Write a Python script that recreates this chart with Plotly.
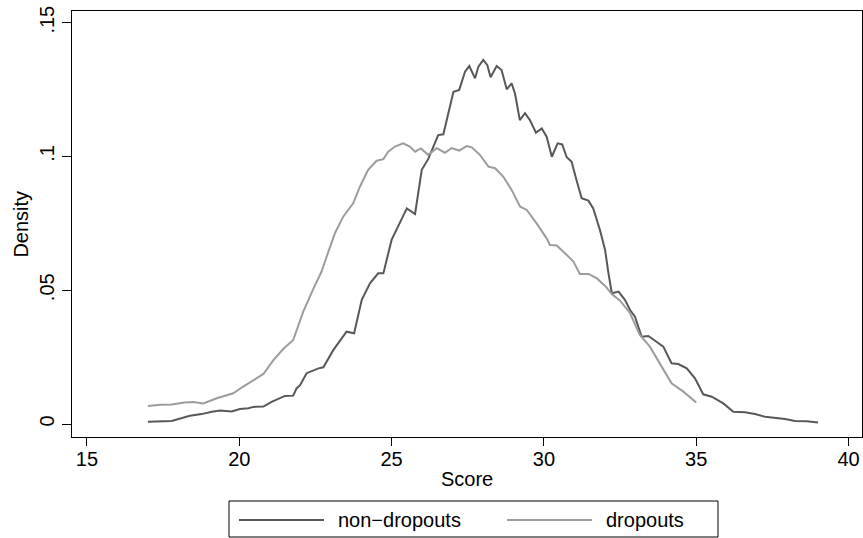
import plotly.graph_objects as go

# ---- data ----
nondrop_x = [17.0, 17.78, 18.38, 18.76, 19.1, 19.37, 19.75, 20.02, 20.3, 20.46, 20.79, 21.06,
             21.5, 21.77, 21.88, 22.0, 22.21, 22.6, 22.76, 23.09, 23.52, 23.77, 24.02, 24.29,
             24.56, 24.73, 25.0, 25.25, 25.5, 25.77, 25.99, 26.2, 26.37, 26.53, 26.7, 26.81,
             27.03, 27.22, 27.41, 27.55, 27.74, 27.85, 28.01, 28.14, 28.25, 28.45, 28.61, 28.78,
             28.94, 29.05, 29.21, 29.38, 29.54, 29.74, 29.93, 30.09, 30.26, 30.45, 30.6, 30.75,
             30.91, 31.07, 31.24, 31.46, 31.62, 31.84, 32.01, 32.12, 32.23, 32.45, 32.66, 32.83,
             32.99, 33.21, 33.43, 33.65, 33.92, 34.19, 34.41, 34.69, 34.96, 35.23, 35.51, 35.89,
             36.22, 36.6, 36.93, 37.26, 37.64, 37.92, 38.24, 38.63, 39.0]
nondrop_y = [0.0008, 0.0011, 0.0031, 0.0037, 0.0046, 0.005, 0.0047, 0.0056, 0.0059, 0.0064, 0.0065, 0.0083,
             0.0105, 0.0106, 0.0133, 0.0146, 0.019, 0.0208, 0.0212, 0.0277, 0.0345, 0.0339, 0.0464, 0.0526,
             0.0563, 0.0563, 0.0688, 0.0745, 0.0806, 0.0785, 0.095, 0.099, 0.1037, 0.108, 0.1083, 0.1136,
             0.1242, 0.1249, 0.1317, 0.1338, 0.1292, 0.1336, 0.1361, 0.1342, 0.1296, 0.1338, 0.1323, 0.1251,
             0.1273, 0.1236, 0.1136, 0.1162, 0.1136, 0.1089, 0.1105, 0.1074, 0.0999, 0.1049, 0.1045, 0.0997,
             0.098, 0.0912, 0.0844, 0.0835, 0.0806, 0.0725, 0.065, 0.0563, 0.0489, 0.0495, 0.0464, 0.0426,
             0.0401, 0.0326, 0.0329, 0.0311, 0.0289, 0.0227, 0.0224, 0.0208, 0.0171, 0.0111, 0.0102, 0.0077,
             0.0046, 0.0044, 0.0037, 0.0027, 0.0024, 0.0019, 0.0011, 0.001, 0.0006]

drop_x = [17.0, 17.4, 17.78, 18.2, 18.5, 18.82, 19.26, 19.8, 20.13, 20.52, 20.79, 21.12, 21.45,
          21.77, 22.1, 22.43, 22.7, 22.87, 23.14, 23.41, 23.74, 23.96, 24.23, 24.51, 24.73, 24.89,
          25.11, 25.38, 25.6, 25.77, 25.96, 26.2, 26.48, 26.75, 26.97, 27.22, 27.46, 27.63, 27.9,
          28.18, 28.4, 28.67, 28.94, 29.22, 29.44, 29.76, 30.09, 30.2, 30.42, 30.75, 30.97, 31.18,
          31.46, 31.73, 32.01, 32.23, 32.5, 32.83, 33.15, 33.48, 33.81, 34.19, 34.58, 35.0]
drop_y = [0.0067, 0.0072, 0.0073, 0.008, 0.0082, 0.0077, 0.0096, 0.0115, 0.014, 0.0167, 0.0187, 0.0239, 0.0281,
          0.0314, 0.042, 0.0505, 0.057, 0.0626, 0.0713, 0.0775, 0.0825, 0.0887, 0.095, 0.0984, 0.099, 0.1018,
          0.1037, 0.1049, 0.1037, 0.1018, 0.103, 0.1006, 0.1031, 0.1014, 0.1031, 0.1022, 0.1039, 0.1034, 0.1006,
          0.0962, 0.0956, 0.0924, 0.0875, 0.0812, 0.08, 0.075, 0.0694, 0.0669, 0.0667, 0.0632, 0.0607, 0.0561,
          0.0561, 0.0545, 0.0516, 0.0486, 0.0461, 0.0414, 0.0333, 0.0289, 0.0227, 0.0152, 0.0121, 0.008]

series_names = ["non−dropouts", "dropouts"]
x_ticks = [15, 20, 25, 30, 35, 40]
y_ticks = [0, 0.05, 0.1, 0.15]
y_tick_text = ["0", ".05", ".1", ".15"]
x_title = "Score"
y_title = "Density"

# ---- styling / layout ----
W, H = 863, 538
ML, MR, MT, MB = 72, 1, 11, 101
PW, PH = W - ML - MR, H - MT - MB
FONT = "Liberation Sans, Arial, sans-serif"
FS = 20
DARK = "#585858"
LIGHT = "#9c9c9c"


def px_x(p):
    return (p - ML) / PW


def px_y(p):
    return (H - MB - p) / PH


fig = go.Figure()
fig.add_trace(go.Scatter(x=nondrop_x, y=nondrop_y, mode="lines", name=series_names[0],
                         line=dict(color=DARK, width=2), showlegend=False))
fig.add_trace(go.Scatter(x=drop_x, y=drop_y, mode="lines", name=series_names[1],
                         line=dict(color=LIGHT, width=2), showlegend=False))

fig.update_layout(
    width=W, height=H,
    margin=dict(l=ML, r=MR, t=MT, b=MB),
    paper_bgcolor="white", plot_bgcolor="white",
    font=dict(family=FONT, size=FS, color="black"),
    xaxis=dict(range=[14.508, 40.443], tickvals=x_ticks, ticks="outside", ticklen=8,
               tickcolor="black", showline=True, linecolor="black", linewidth=1, mirror=True,
               showgrid=False, zeroline=False, tickfont=dict(size=FS),
               ticklabeloverflow="allow", ticklabelstandoff=-4),
    yaxis=dict(range=[-0.00486, 0.15437], tickvals=y_ticks, ticktext=y_tick_text,
               ticks="outside", ticklen=9, tickcolor="black", tickangle=-90,
               showline=True, linecolor="black", linewidth=1, mirror=True,
               showgrid=False, zeroline=False, tickfont=dict(size=FS),
               ticklabeloverflow="allow"),
)

# axis titles
fig.add_annotation(text=x_title, xref="paper", yref="paper", x=0.5, y=px_y(479),
                   xanchor="center", yanchor="middle", showarrow=False, font=dict(size=FS))
fig.add_annotation(text=y_title, xref="paper", yref="paper", x=px_x(20.6), y=0.5,
                   xanchor="center", yanchor="middle", textangle=-90, showarrow=False,
                   font=dict(size=FS))

# legend (Stata style box below the plot)
fig.add_shape(type="rect", xref="paper", yref="paper", x0=px_x(229), x1=px_x(718),
              y0=px_y(537), y1=px_y(501), line=dict(color="black", width=1), fillcolor="white")
ly = px_y(520)
fig.add_shape(type="line", xref="paper", yref="paper", x0=px_x(239), x1=px_x(324), y0=ly, y1=ly,
              line=dict(color=DARK, width=2))
fig.add_shape(type="line", xref="paper", yref="paper", x0=px_x(507), x1=px_x(592), y0=ly, y1=ly,
              line=dict(color=LIGHT, width=2))
fig.add_annotation(text=series_names[0], xref="paper", yref="paper", x=px_x(336), y=ly,
                   xanchor="left", yanchor="middle", showarrow=False, font=dict(size=FS))
fig.add_annotation(text=series_names[1], xref="paper", yref="paper", x=px_x(604), y=ly,
                   xanchor="left", yanchor="middle", showarrow=False, font=dict(size=FS))

fig.write_html("out.html", config={"displayModeBar": False},
               post_script="document.body.style.margin='0';document.body.style.overflow='hidden';")
